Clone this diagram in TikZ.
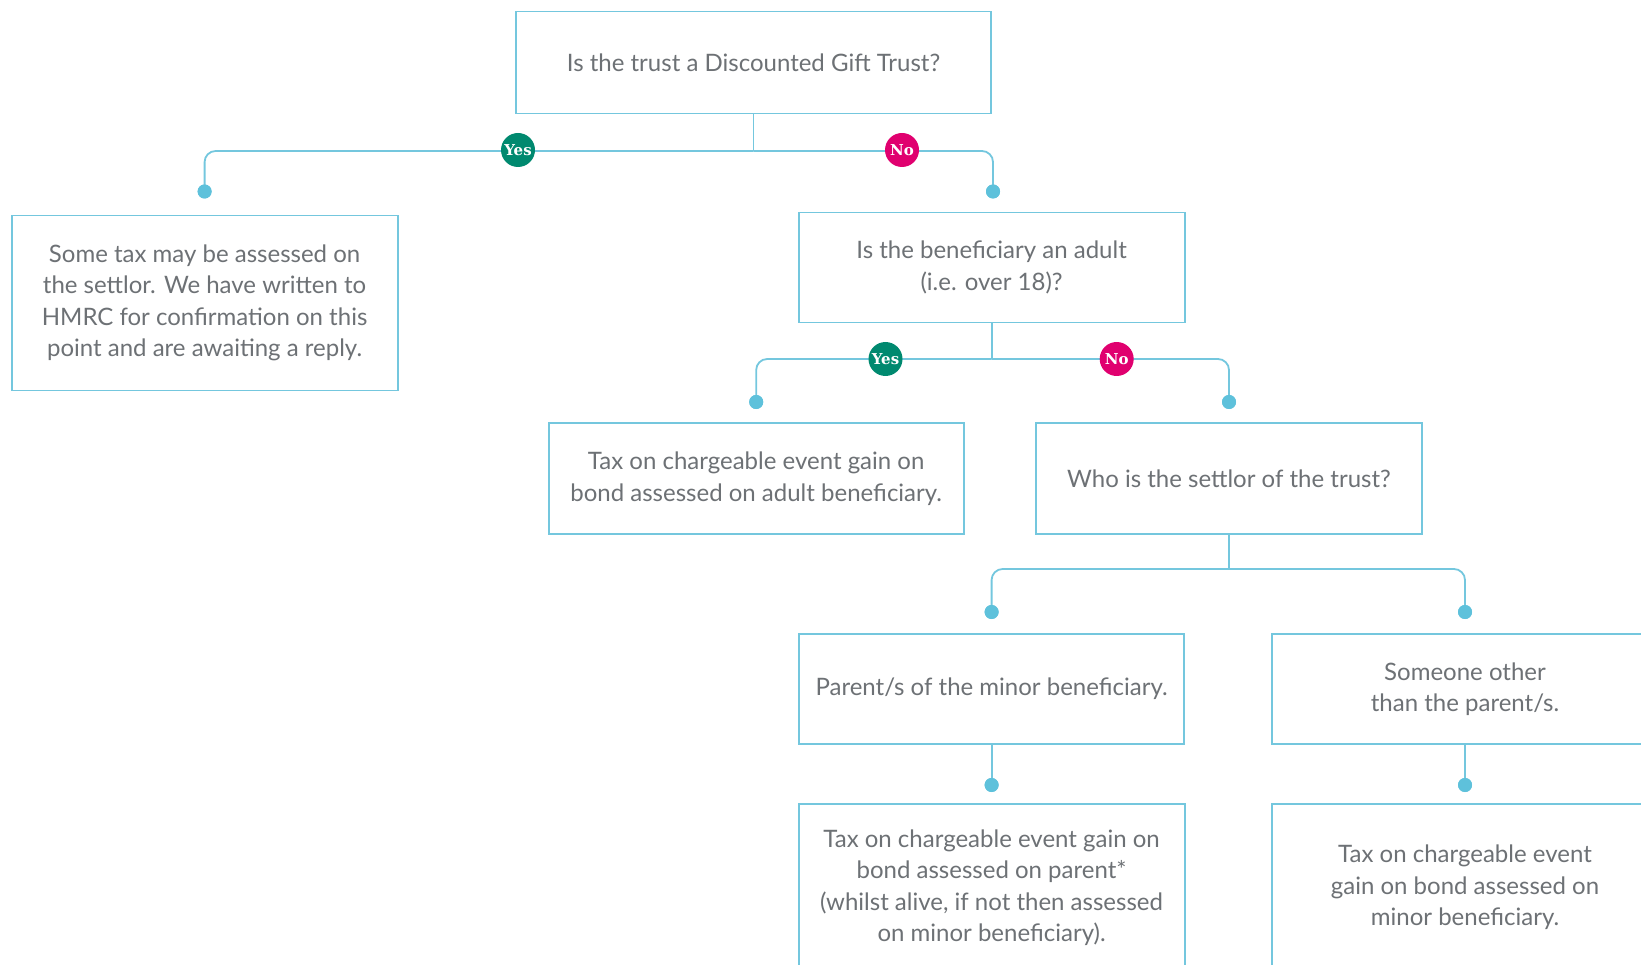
\documentclass[tikz,border=0pt]{standalone}
\usepackage{fontspec}
\setmainfont{Lato}
\newfontfamily\badgefont{DejaVu Serif}
\definecolor{linec}{HTML}{74C7DE}
\definecolor{dotc}{HTML}{5EC1DB}
\definecolor{yesc}{HTML}{00896F}
\definecolor{noc}{HTML}{E0006F}
\definecolor{txtc}{HTML}{6D7175}
\tikzset{
  box/.style={draw=linec, line width=1.8pt, fill=white, align=center, text=txtc,
    font=\fontsize{24}{31.5}\selectfont, inner sep=0pt},
  conn/.style={draw=linec, line width=1.8pt, rounded corners=11pt},
  dotn/.style={circle, fill=dotc, minimum size=14pt, inner sep=0pt},
  badge/.style={circle, minimum size=34pt, inner sep=0pt, text=white,
    font=\badgefont\bfseries\fontsize{15}{15}\selectfont},
  yesb/.style={badge, fill=yesc},
  nob/.style={badge, fill=noc},
}
\begin{document}
\begin{tikzpicture}[x=1pt,y=-1pt]
\useasboundingbox (0,0) rectangle (1641,965);
\clip (0,0) rectangle (1641,965);
% boxes
\node[box, minimum width=475pt, minimum height=102pt] (top) at (753.5,62.5) {Is the trust a Discounted Gift Trust?};
\node[box, minimum width=386pt, minimum height=175pt] (left) at (204.6,303) {Some tax may be assessed on\\the settlor. We have written to\\HMRC for confirmation on this\\point and are awaiting a reply.};
\node[box, minimum width=386pt, minimum height=110pt] (adult) at (991.6,267.5) {Is the beneficiary an adult\\(i.e. over 18)?};
\node[box, minimum width=415pt, minimum height=111pt] (taxadult) at (756.2,478.5) {Tax on chargeable event gain on\\bond assessed on adult beneficiary.};
\node[box, minimum width=386pt, minimum height=111pt] (settlor) at (1229,478.5) {Who is the settlor of the trust?};
\node[box, minimum width=385pt, minimum height=110pt] (parent) at (991.6,689) {Parent/s of the minor beneficiary.};
\node[box, minimum width=386pt, minimum height=110pt] (other) at (1465,689) {Someone other\\than the parent/s.};
\node[box, minimum width=386pt, minimum height=167pt] (taxparent) at (991.6,887.5) {Tax on chargeable event gain on\\bond assessed on parent*\\(whilst alive, if not then assessed\\on minor beneficiary).};
\node[box, minimum width=386pt, minimum height=167pt] (taxminor) at (1465,887.5) {Tax on chargeable event\\gain on bond assessed on\\minor beneficiary.};
% fork coordinates
\coordinate (f1) at (753.5,151);
\coordinate (f2) at (991.6,359);
\coordinate (f3) at (1229,569);
% dots
\node[dotn] (d1) at (204.6,191.5) {};
\node[dotn] (d2) at (993,191.5) {};
\node[dotn] (d3) at (756.2,402) {};
\node[dotn] (d4) at (1229,402) {};
\node[dotn] (d5) at (991.6,612) {};
\node[dotn] (d6) at (1465,612) {};
\node[dotn] (d7) at (991.6,785) {};
\node[dotn] (d8) at (1465,785) {};
% connectors
\draw[conn] (top.south) -- (f1);
\draw[conn] (f1) -| (d1.center);
\draw[conn] (f1) -| (d2.center);
\draw[conn] (adult.south) -- (f2);
\draw[conn] (f2) -| (d3.center);
\draw[conn] (f2) -| (d4.center);
\draw[conn] (settlor.south) -- (f3);
\draw[conn] (f3) -| (d5.center);
\draw[conn] (f3) -| (d6.center);
\draw[conn] (parent.south) -- (d7.center);
\draw[conn] (other.south) -- (d8.center);
% redraw dots on top
\node[dotn] at (d1) {};
\node[dotn] at (d2) {};
\node[dotn] at (d3) {};
\node[dotn] at (d4) {};
\node[dotn] at (d5) {};
\node[dotn] at (d6) {};
\node[dotn] at (d7) {};
\node[dotn] at (d8) {};
% badges
\node[yesb] (y1) at (518,150) {Yes};
\node[nob] (n1) at (902,150) {No};
\node[yesb] (y2) at (885.5,359) {Yes};
\node[nob] (n2) at (1116.7,359) {No};
\end{tikzpicture}
\end{document}
